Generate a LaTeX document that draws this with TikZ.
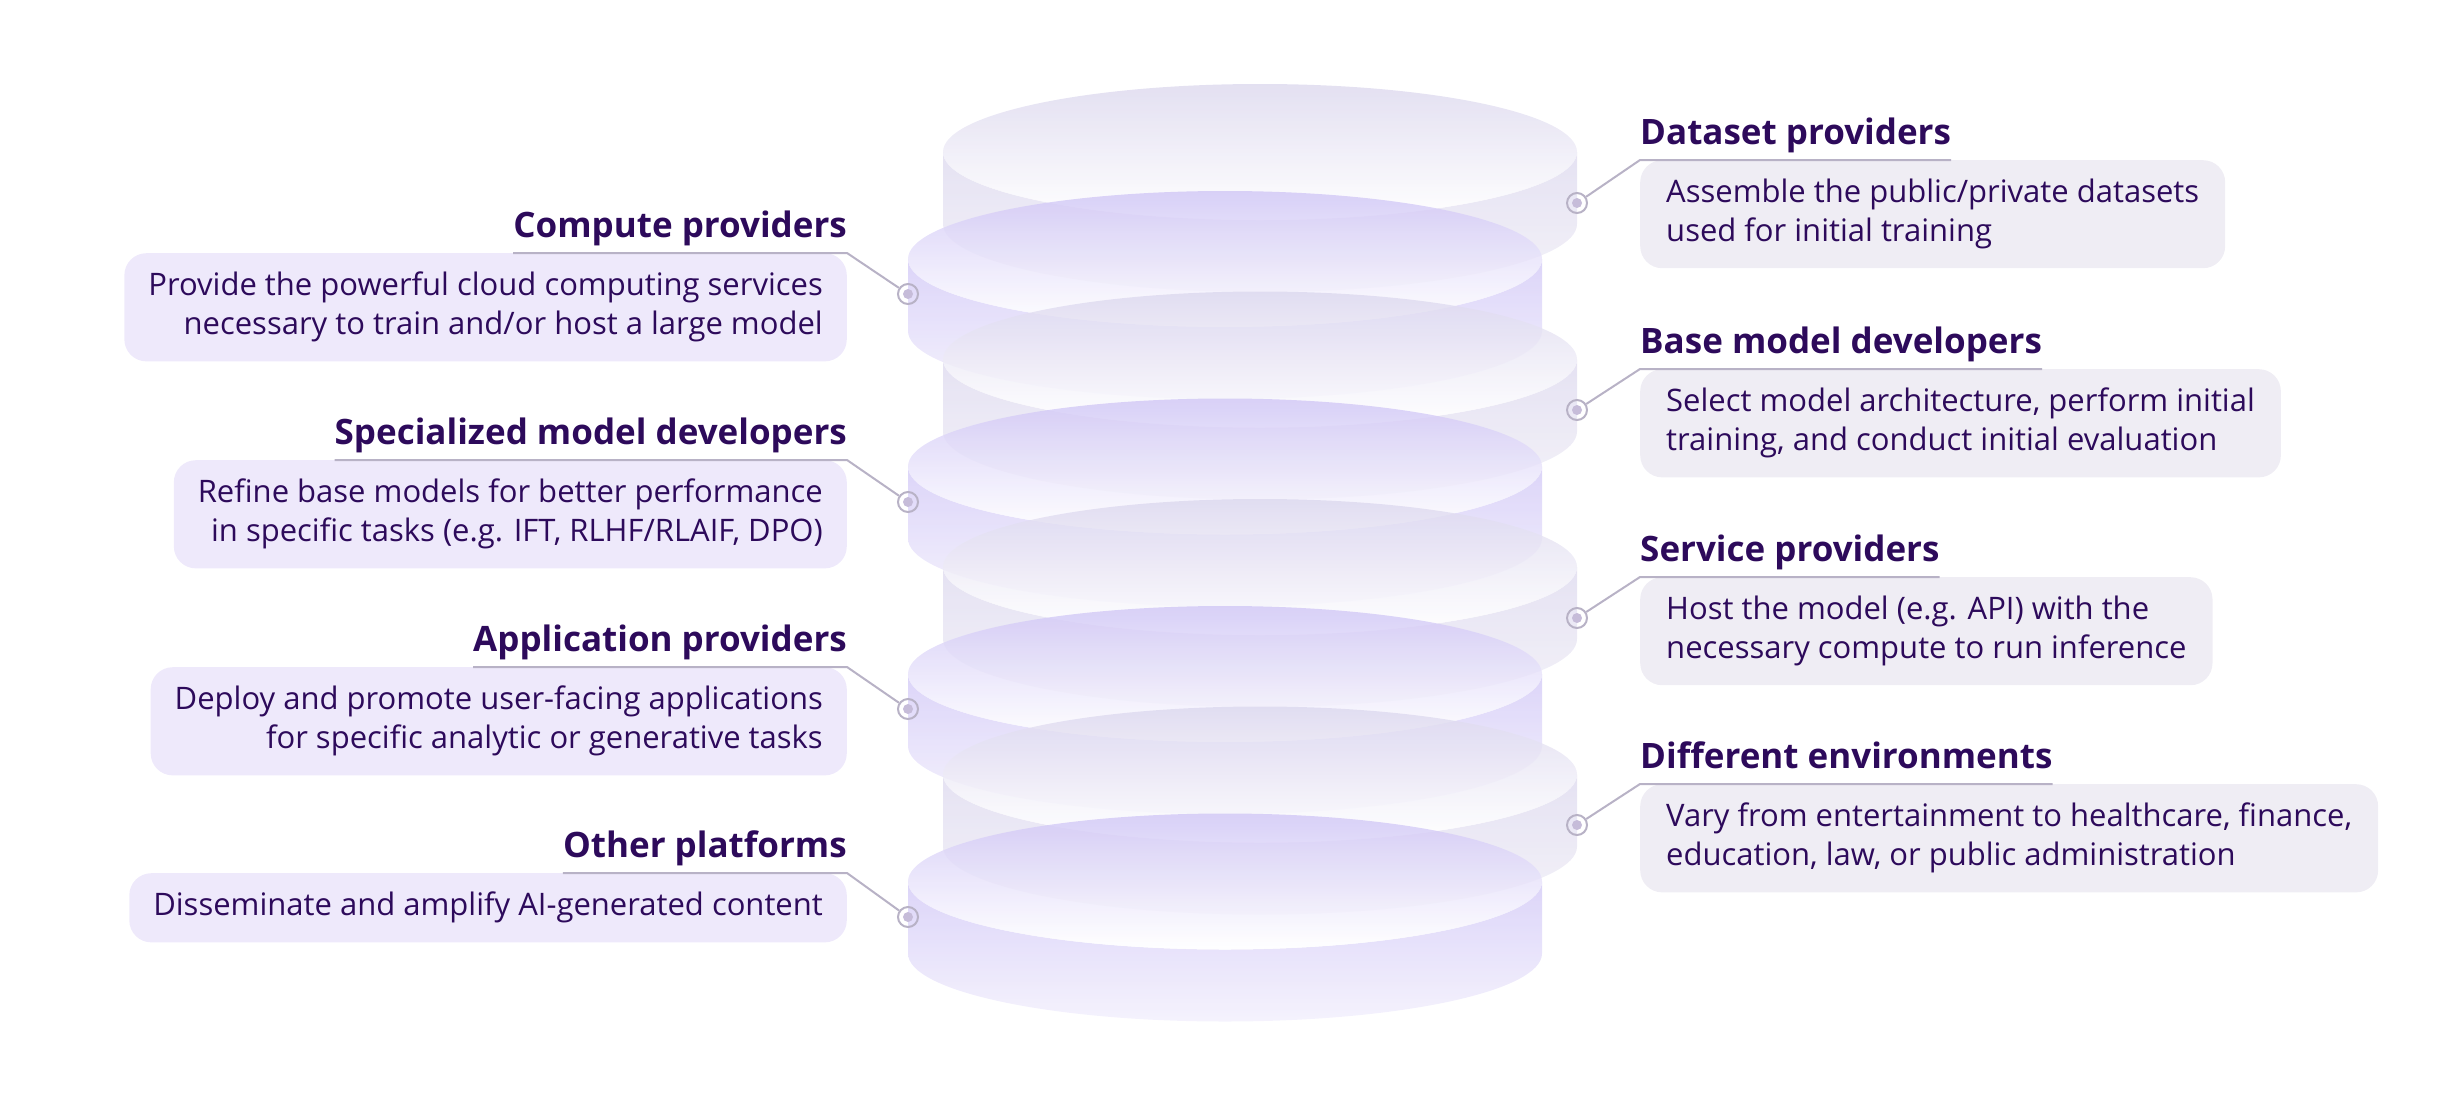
\documentclass[tikz,border=0pt]{standalone}
\usepackage{fontspec}
\setmainfont{Open Sans}
\usetikzlibrary{positioning}

\definecolor{ink}{HTML}{2D0A5B}
\definecolor{wire}{HTML}{B8B2C6}
\definecolor{pindot}{HTML}{C6BCD9}
\definecolor{lboxfill}{HTML}{EEE9FB}
\definecolor{rboxfill}{HTML}{EFEDF4}
\definecolor{lside}{HTML}{D0C6F6}
\definecolor{lsidebot}{HTML}{F1EEFC}
\definecolor{rside}{HTML}{DCD8EE}
\definecolor{rsidebot}{HTML}{F0EEF6}

\tikzset{
  role/.style={font=\fontsize{35}{40}\selectfont\bfseries, text=ink, inner sep=0pt},
  lbox/.style={fill=lboxfill, rounded corners=22pt, text=ink, align=right,
    font=\fontsize{31}{39}\selectfont, inner xsep=24pt, inner ysep=19pt},
  rbox/.style={fill=rboxfill, rounded corners=22pt, text=ink, align=left,
    font=\fontsize{31}{39}\selectfont, inner xsep=26pt, inner ysep=19pt},
  pinring/.style={circle, draw=wire, line width=2pt, minimum size=20pt, inner sep=0pt},
  lead/.style={draw=wire, line width=2pt}
}

% one disc of the stack: #1 centre x, #2 centre y, #3/#4 side colours, #5 face colour
\newcommand{\disc}[5]{%
  \path[top color=#3, bottom color=#4, fill opacity=.75]
    (#1-317,#2) -- (#1-317,#2+72) arc[start angle=180, end angle=0, x radius=317, y radius=68]
    -- (#1+317,#2) arc[start angle=0, end angle=180, x radius=317, y radius=68] -- cycle;
  \path[top color=#5, bottom color=white, fill opacity=.8]
    (#1,#2) ellipse[x radius=317, y radius=68];
}

\begin{document}
\begin{tikzpicture}[x=1pt, y=-1pt]
  \useasboundingbox (0,0) rectangle (2460,1098);

  % stack, drawn top to bottom
  \foreach \k in {0,1,2,3} {
    \disc{1260}{152+207.5*\k}{rside}{rsidebot}{rside}
    \disc{1225}{259+207.5*\k}{lside}{lsidebot}{lside}
  }

  % right roles
  \node[pinring] (pds) at (1577,203) {};
  \node[pinring] (pbm) at (1577,410) {};
  \node[pinring] (psp) at (1577,618) {};
  \node[pinring] (pde) at (1577,825) {};

  \node[rbox, anchor=north west] (bds) at (1640,160)
    {Assemble the public/private datasets\\used for initial training};
  \node[rbox, anchor=north west] (bbm) at (1640,369)
    {Select model architecture, perform initial\\training, and conduct initial evaluation};
  \node[rbox, anchor=north west] (bsp) at (1640,577)
    {Host the model (e.g. API) with the\\necessary compute to run inference};
  \node[rbox, anchor=north west] (bde) at (1640,784)
    {Vary from entertainment to healthcare, finance,\\education, law, or public administration};

  \node[role, anchor=base west] (tds) at (1640,144) {Dataset providers};
  \node[role, anchor=base west] (tbm) at (1640,353) {Base model developers};
  \node[role, anchor=base west] (tsp) at (1640,561) {Service providers};
  \node[role, anchor=base west] (tde) at (1640,768) {Different environments};

  % left roles
  \node[pinring] (pcp) at (908,294) {};
  \node[pinring] (psm) at (908,502) {};
  \node[pinring] (pap) at (908,709) {};
  \node[pinring] (pop) at (908,917) {};

  \node[lbox, anchor=north east] (bcp) at (847,253)
    {Provide the powerful cloud computing services\\necessary to train and/or host a large model};
  \node[lbox, anchor=north east] (bsm) at (847,460)
    {Refine base models for better performance\\in specific tasks (e.g. IFT, RLHF/RLAIF, DPO)};
  \node[lbox, anchor=north east] (bap) at (847,667)
    {Deploy and promote user-facing applications\\for specific analytic or generative tasks};
  \node[lbox, anchor=north east] (bop) at (847,873)
    {Disseminate and amplify AI-generated content};

  \node[role, anchor=base east] (tcp) at (847,237) {Compute providers};
  \node[role, anchor=base east] (tsm) at (847,444) {Specialized model developers};
  \node[role, anchor=base east] (tap) at (847,651) {Application providers};
  \node[role, anchor=base east] (top) at (847,857) {Other platforms};

  % leads and underlines
  \foreach \p/\b/\t in {pds/bds/tds, pbm/bbm/tbm, psp/bsp/tsp, pde/bde/tde} {
    \fill[pindot] (\p) circle[radius=5];
    \draw[lead] (\p) -- (\b.north west) -- (\b.north west -| \t.east);
  }
  \foreach \p/\b/\t in {pcp/bcp/tcp, psm/bsm/tsm, pap/bap/tap, pop/bop/top} {
    \fill[pindot] (\p) circle[radius=5];
    \draw[lead] (\p) -- (\b.north east) -- (\b.north east -| \t.west);
  }
\end{tikzpicture}
\end{document}
